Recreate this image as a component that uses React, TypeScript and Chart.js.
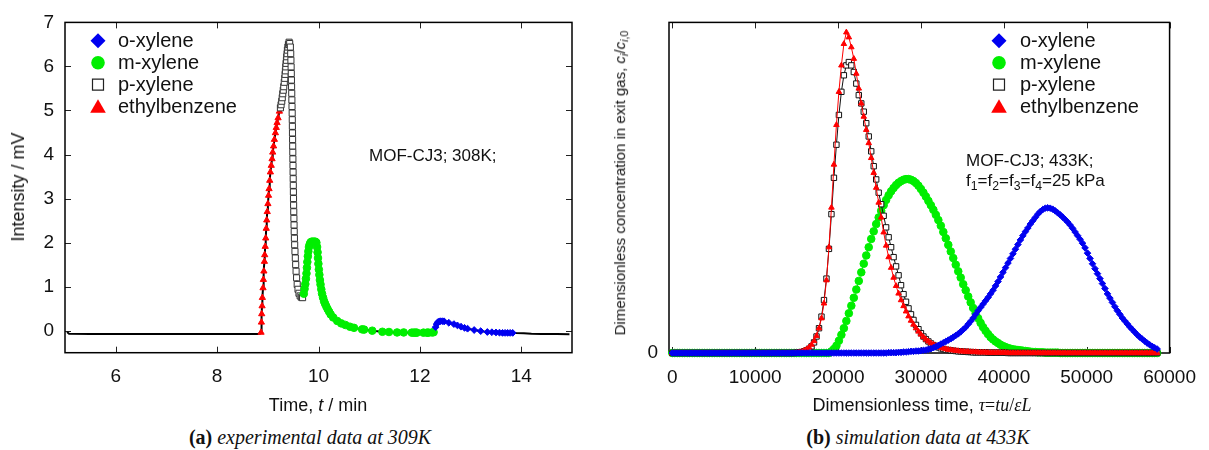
import React, { useEffect, useRef } from "react";
import { Chart, registerables } from "chart.js";

Chart.register(...registerables);

const SANS = '"Liberation Sans", Arial, Helvetica, sans-serif';
const SERIF = '"Liberation Serif", "Times New Roman", serif';

const BLUE = "#0000f0";
const GREEN = "#00ee00";
const RED = "#ff0000";
const BLACK = "#000000";

const SPECIES = ["o-xylene", "m-xylene", "p-xylene", "ethylbenzene"];

// ---------- (a) experimental breakthrough trace: time [min], intensity [mV] ----------
const BASE_START_TIME = [5.04, 5.08, 5.5, 6, 7, 8, 8.5, 8.8, 8.85];
const BASE_START_MV = [-0.03, -0.07, -0.075, -0.075, -0.075, -0.075, -0.075, -0.075, -0.065];

const EB_TIME = [8.867, 8.874, 8.88, 8.887, 8.893, 8.906, 8.913, 8.923, 8.933, 8.939, 8.949, 8.959, 8.969, 8.979, 8.989, 9.002, 9.015, 9.025, 9.038, 9.051, 9.068, 9.084, 9.097, 9.114, 9.13, 9.15, 9.167, 9.183, 9.203, 9.229];
const EB_MV = [-0.04, 0.19, 0.38, 0.56, 0.75, 0.97, 1.16, 1.35, 1.57, 1.72, 1.91, 2.1, 2.32, 2.51, 2.7, 2.88, 3.07, 3.22, 3.41, 3.6, 3.75, 3.9, 4.05, 4.19, 4.34, 4.49, 4.61, 4.72, 4.83, 4.98];

const PX_TIME = [9.249, 9.262, 9.275, 9.285, 9.295, 9.305, 9.315, 9.325, 9.335, 9.342, 9.348, 9.355, 9.361, 9.368, 9.374, 9.381, 9.387, 9.397, 9.407, 9.42, 9.432,
  9.445, 9.452, 9.456, 9.46, 9.463, 9.466, 9.469, 9.472, 9.475, 9.478, 9.481, 9.483, 9.485, 9.487, 9.489, 9.491, 9.493, 9.495, 9.497, 9.499, 9.501, 9.503, 9.505, 9.507, 9.509, 9.512, 9.515, 9.518, 9.521, 9.525, 9.53, 9.536, 9.543, 9.55, 9.558, 9.568, 9.58, 9.596, 9.615, 9.638, 9.662, 9.686];
const PX_MV = [5.06, 5.13, 5.21, 5.29, 5.38, 5.46, 5.54, 5.64, 5.73, 5.82, 5.9, 5.99, 6.07, 6.14, 6.22, 6.29, 6.37, 6.44, 6.5, 6.55, 6.52,
  6.44, 6.29, 6.14, 5.99, 5.84, 5.69, 5.54, 5.39, 5.24, 5.09, 4.94, 4.79, 4.64, 4.49, 4.34, 4.19, 4.05, 3.9, 3.75, 3.6, 3.45, 3.3, 3.15, 3.0, 2.85, 2.7, 2.55, 2.4, 2.25, 2.1, 1.95, 1.8, 1.65, 1.5, 1.35, 1.2, 1.05, 0.94, 0.85, 0.79, 0.76, 0.75];

const MX_TIME = [9.71, 9.725, 9.74, 9.752, 9.763, 9.772, 9.78, 9.79, 9.8, 9.812, 9.826, 9.842, 9.86, 9.88, 9.9, 9.92, 9.94, 9.958, 9.972, 9.982, 9.99, 9.998, 10.007, 10.017, 10.028, 10.04, 10.055, 10.07, 10.09, 10.11, 10.13, 10.155, 10.18, 10.21, 10.24, 10.29, 10.37, 10.45, 10.53, 10.62, 10.7, 10.86, 10.9, 11.06, 11.26, 11.39, 11.55, 11.68, 11.84, 11.88, 11.91, 11.94, 12.07, 12.14, 12.17, 12.24, 12.27];
const MX_MV = [0.84, 0.95, 1.06, 1.18, 1.3, 1.43, 1.56, 1.69, 1.8, 1.9, 1.96, 2.0, 2.02, 2.02, 2.02, 2.02, 2.02, 2.0, 1.9, 1.78, 1.65, 1.52, 1.39, 1.27, 1.15, 1.05, 0.94, 0.84, 0.75, 0.67, 0.61, 0.55, 0.49, 0.43, 0.37, 0.3, 0.22, 0.165, 0.13, 0.09, 0.065, 0.03, 0.025, 0.0, -0.025, -0.03, -0.04, -0.04, -0.045, -0.045, -0.045, -0.045, -0.045, -0.045, -0.045, -0.04, -0.035];

const OX_TIME = [12.31, 12.33, 12.35, 12.38, 12.41, 12.45, 12.48, 12.57, 12.67, 12.74, 12.81, 12.88, 12.94, 13.07, 13.2, 13.33, 13.42, 13.5, 13.57, 13.63, 13.68, 13.73, 13.78, 13.83];
const OX_MV = [0.08, 0.15, 0.19, 0.21, 0.215, 0.215, 0.21, 0.18, 0.15, 0.12, 0.09, 0.065, 0.045, 0.015, -0.01, -0.03, -0.035, -0.04, -0.045, -0.05, -0.05, -0.05, -0.05, -0.05];

const BASE_END_TIME = [13.9, 14.05, 14.2, 14.4, 14.7, 14.95];
const BASE_END_MV = [-0.055, -0.06, -0.07, -0.075, -0.075, -0.08];

const TIME_TICKS = [6, 8, 10, 12, 14];
const MV_TICKS = [0, 1, 2, 3, 4, 5, 6, 7];

// ---------- (b) simulated exit concentrations vs dimensionless time ----------
const TAU = [
  0, 300, 600, 900, 1200, 1500, 1800, 2100, 2400, 2700,
  3000, 3300, 3600, 3900, 4200, 4500, 4800, 5100, 5400, 5700,
  6000, 6300, 6600, 6900, 7200, 7500, 7800, 8100, 8400, 8700,
  9000, 9300, 9600, 9900, 10200, 10500, 10800, 11100, 11400, 11700,
  12000, 12300, 12600, 12900, 13200, 13500, 13800, 14100, 14400, 14700,
  15000, 15300, 15600, 15900, 16200, 16500, 16800, 17100, 17400, 17700,
  18000, 18300, 18600, 18900, 19200, 19500, 19800, 20100, 20400, 20700,
  21000, 21300, 21600, 21900, 22200, 22500, 22800, 23100, 23400, 23700,
  24000, 24300, 24600, 24900, 25200, 25500, 25800, 26100, 26400, 26700,
  27000, 27300, 27600, 27900, 28200, 28500, 28800, 29100, 29400, 29700,
  30000, 30300, 30600, 30900, 31200, 31500, 31800, 32100, 32400, 32700,
  33000, 33300, 33600, 33900, 34200, 34500, 34800, 35100, 35400, 35700,
  36000, 36300, 36600, 36900, 37200, 37500, 37800, 38100, 38400, 38700,
  39000, 39300, 39600, 39900, 40200, 40500, 40800, 41100, 41400, 41700,
  42000, 42300, 42600, 42900, 43200, 43500, 43800, 44100, 44400, 44700,
  45000, 45300, 45600, 45900, 46200, 46500, 46800, 47100, 47400, 47700,
  48000, 48300, 48600, 48900, 49200, 49500, 49800, 50100, 50400, 50700,
  51000, 51300, 51600, 51900, 52200, 52500, 52800, 53100, 53400, 53700,
  54000, 54300, 54600, 54900, 55200, 55500, 55800, 56100, 56400, 56700,
  57000, 57300, 57600, 57900, 58200, 58500,
];

const OX_SIM = [
  0, 0, 0, 0, 0, 0, 0, 0, 0, 0,
  0, 0, 0, 0, 0, 0, 0, 0, 0, 0,
  0, 0, 0, 0, 0, 0, 0, 0, 0, 0,
  0, 0, 0, 0, 0, 0, 0, 0, 0, 0,
  0, 0, 0, 0, 0, 0, 0, 0, 0, 0,
  0, 0, 0, 0, 0, 0, 0, 0, 0, 0,
  0, 0, 0, 0, 0, 0, 0, 0, 0, 0,
  0, 0, 0, 0, 0, 0, 0, 0, 0, 0,
  0, 0, 0, 0, 0, 0, 0, 0.001, 0.001, 0.001,
  0.001, 0.002, 0.002, 0.003, 0.003, 0.004, 0.005, 0.005, 0.006, 0.006,
  0.007, 0.008, 0.009, 0.011, 0.013, 0.016, 0.019, 0.023, 0.027, 0.031,
  0.035, 0.039, 0.043, 0.048, 0.053, 0.058, 0.064, 0.071, 0.078, 0.087,
  0.096, 0.106, 0.117, 0.128, 0.138, 0.148, 0.158, 0.168, 0.179, 0.19,
  0.203, 0.216, 0.23, 0.244, 0.258, 0.272, 0.286, 0.3, 0.314, 0.328,
  0.342, 0.355, 0.367, 0.378, 0.39, 0.4, 0.41, 0.42, 0.428, 0.434,
  0.438, 0.439, 0.438, 0.435, 0.43, 0.424, 0.418, 0.411, 0.404, 0.396,
  0.387, 0.377, 0.366, 0.355, 0.344, 0.332, 0.318, 0.302, 0.286, 0.27,
  0.255, 0.24, 0.225, 0.21, 0.195, 0.179, 0.166, 0.153, 0.14, 0.128,
  0.117, 0.106, 0.097, 0.088, 0.079, 0.071, 0.063, 0.055, 0.048, 0.042,
  0.036, 0.03, 0.025, 0.02, 0.016, 0.012,
];

const MX_SIM = [
  0, 0, 0, 0, 0, 0, 0, 0, 0, 0,
  0, 0, 0, 0, 0, 0, 0, 0, 0, 0,
  0, 0, 0, 0, 0, 0, 0, 0, 0, 0,
  0, 0, 0, 0, 0, 0, 0, 0, 0, 0,
  0, 0, 0, 0, 0, 0, 0, 0, 0, 0,
  0, 0, 0, 0, 0, 0, 0, 0, 0, 0,
  0, 0, 0, 0, 0.005, 0.012, 0.022, 0.037, 0.055, 0.075,
  0.097, 0.12, 0.143, 0.167, 0.192, 0.218, 0.244, 0.27, 0.295, 0.32,
  0.345, 0.368, 0.39, 0.41, 0.43, 0.447, 0.463, 0.477, 0.489, 0.499,
  0.508, 0.515, 0.52, 0.524, 0.526, 0.526, 0.524, 0.52, 0.514, 0.506,
  0.496, 0.485, 0.473, 0.46, 0.447, 0.433, 0.418, 0.402, 0.385, 0.366,
  0.347, 0.327, 0.307, 0.287, 0.267, 0.247, 0.228, 0.208, 0.19, 0.171,
  0.153, 0.136, 0.12, 0.105, 0.091, 0.078, 0.067, 0.057, 0.048, 0.041,
  0.035, 0.03, 0.025, 0.021, 0.018, 0.015, 0.013, 0.011, 0.01, 0.009,
  0.008, 0.007, 0.006, 0.005, 0.004, 0.003, 0.003, 0.002, 0.002, 0.002,
  0.001, 0.001, 0.001, 0.001, 0.001, 0.001, 0, 0, 0, 0,
  0, 0, 0, 0, 0, 0, 0, 0, 0, 0,
  0, 0, 0, 0, 0, 0, 0, 0, 0, 0,
  0, 0, 0, 0, 0, 0, 0, 0, 0, 0,
  0, 0, 0, 0, 0, 0,
];

const PX_SIM = [
  0, 0, 0, 0, 0, 0, 0, 0, 0, 0,
  0, 0, 0, 0, 0, 0, 0, 0, 0, 0,
  0, 0, 0, 0, 0, 0, 0, 0, 0, 0,
  0, 0, 0, 0, 0, 0, 0, 0, 0, 0,
  0, 0, 0, 0, 0, 0, 0, 0, 0, 0,
  0.001, 0.002, 0.003, 0.005, 0.008, 0.013, 0.02, 0.032, 0.05, 0.075,
  0.11, 0.16, 0.225, 0.315, 0.42, 0.53, 0.63, 0.72, 0.79, 0.84,
  0.87, 0.88, 0.87, 0.85, 0.815, 0.78, 0.755, 0.73, 0.695, 0.655,
  0.61, 0.565, 0.525, 0.485, 0.45, 0.415, 0.38, 0.35, 0.32, 0.29,
  0.262, 0.235, 0.205, 0.178, 0.155, 0.135, 0.117, 0.1, 0.085, 0.072,
  0.06, 0.05, 0.042, 0.035, 0.029, 0.024, 0.02, 0.017, 0.014, 0.012,
  0.01, 0.009, 0.008, 0.007, 0.006, 0.005, 0.005, 0.004, 0.004, 0.003,
  0.003, 0.002, 0.002, 0.002, 0.002, 0.002, 0.002, 0.001, 0.001, 0.001,
  0.001, 0.001, 0.001, 0.001, 0.001, 0, 0, 0, 0, 0,
  0, 0, 0, 0, 0, 0, 0, 0, 0, 0,
  0, 0, 0, 0, 0, 0, 0, 0, 0, 0,
  0, 0, 0, 0, 0, 0, 0, 0, 0, 0,
  0, 0, 0, 0, 0, 0, 0, 0, 0, 0,
  0, 0, 0, 0, 0, 0, 0, 0, 0, 0,
  0, 0, 0, 0, 0, 0,
];

const EB_SIM = [
  0, 0, 0, 0, 0, 0, 0, 0, 0, 0,
  0, 0, 0, 0, 0, 0, 0, 0, 0, 0,
  0, 0, 0, 0, 0, 0, 0, 0, 0, 0,
  0, 0, 0, 0, 0, 0, 0, 0, 0, 0,
  0, 0, 0, 0, 0, 0, 0, 0, 0, 0,
  0.001, 0.002, 0.004, 0.007, 0.011, 0.017, 0.025, 0.036, 0.052, 0.075,
  0.105, 0.15, 0.22, 0.32, 0.44, 0.57, 0.69, 0.79, 0.87, 0.935,
  0.97, 0.955, 0.925, 0.89, 0.845, 0.8, 0.755, 0.715, 0.675, 0.635,
  0.59, 0.545, 0.5, 0.455, 0.41, 0.365, 0.325, 0.29, 0.258, 0.228,
  0.203, 0.18, 0.16, 0.142, 0.126, 0.111, 0.098, 0.086, 0.075, 0.065,
  0.056, 0.048, 0.041, 0.035, 0.03, 0.026, 0.022, 0.019, 0.016, 0.014,
  0.012, 0.01, 0.009, 0.008, 0.007, 0.006, 0.005, 0.005, 0.004, 0.004,
  0.003, 0.003, 0.003, 0.002, 0.002, 0.002, 0.002, 0.001, 0.001, 0.001,
  0.001, 0.001, 0.001, 0.001, 0.001, 0, 0, 0, 0, 0,
  0, 0, 0, 0, 0, 0, 0, 0, 0, 0,
  0, 0, 0, 0, 0, 0, 0, 0, 0, 0,
  0, 0, 0, 0, 0, 0, 0, 0, 0, 0,
  0, 0, 0, 0, 0, 0, 0, 0, 0, 0,
  0, 0, 0, 0, 0, 0, 0, 0, 0, 0,
  0, 0, 0, 0, 0, 0,
];

const TAU_TICKS = [0, 10000, 20000, 30000, 40000, 50000, 60000];
const CONC_TICKS = [0];

// ---------- helpers ----------
type Pt = { x: number; y: number };
const pts = (xs: number[], ys: number[]): Pt[] => xs.map((x, i) => ({ x, y: ys[i] }));

type Shape = "diamond" | "circle" | "square" | "triangle";
const KEY_SHAPES: Shape[] = ["diamond", "circle", "square", "triangle"];
const KEY_COLORS = [BLUE, GREEN, BLACK, RED];

function drawKeyMarker(ctx: CanvasRenderingContext2D, shape: Shape, x: number, y: number, color: string) {
  ctx.save();
  ctx.fillStyle = color;
  ctx.strokeStyle = color;
  ctx.beginPath();
  if (shape === "diamond") {
    const h = 7.5;
    ctx.moveTo(x, y - h);
    ctx.lineTo(x + h, y);
    ctx.lineTo(x, y + h);
    ctx.lineTo(x - h, y);
    ctx.closePath();
    ctx.fill();
  } else if (shape === "circle") {
    ctx.arc(x, y, 6.8, 0, Math.PI * 2);
    ctx.fill();
  } else if (shape === "square") {
    const s = 5.5;
    ctx.fillStyle = "#fff";
    ctx.strokeStyle = "#222";
    ctx.lineWidth = 1.2;
    ctx.rect(x - s, y - s, 2 * s, 2 * s);
    ctx.fill();
    ctx.stroke();
  } else {
    ctx.moveTo(x, y - 7.5);
    ctx.lineTo(x + 7.8, y + 6);
    ctx.lineTo(x - 7.8, y + 6);
    ctx.closePath();
    ctx.fill();
  }
  ctx.restore();
}

// Border box with gnuplot-style inward tick marks
function frameTicks(withTop: boolean, withRight: boolean) {
  return {
    id: "frameTicks",
    beforeDatasetsDraw(chart: any) {
      const { ctx, chartArea: a } = chart;
      const xs = chart.scales.x;
      const ys = chart.scales.y;
      const len = 6;
      ctx.save();
      ctx.strokeStyle = "#222";
      ctx.lineWidth = 1;
      ctx.beginPath();
      for (const t of xs.ticks) {
        const px = Math.round(xs.getPixelForValue(t.value)) + 0.5;
        ctx.moveTo(px, a.bottom);
        ctx.lineTo(px, a.bottom - len);
        if (withTop) {
          ctx.moveTo(px, a.top);
          ctx.lineTo(px, a.top + len);
        }
      }
      for (const t of ys.ticks) {
        const py = Math.round(ys.getPixelForValue(t.value)) + 0.5;
        ctx.moveTo(a.left, py);
        ctx.lineTo(a.left + len, py);
        if (withRight) {
          ctx.moveTo(a.right, py);
          ctx.lineTo(a.right - len, py);
        }
      }
      ctx.stroke();
      ctx.strokeStyle = "#000";
      ctx.lineWidth = 1.5;
      ctx.strokeRect(a.left, a.top, a.right - a.left, a.bottom - a.top);
      ctx.restore();
    },
  };
}

// Species key drawn inside the plot box
function speciesKey(markerX: number, textX: number, firstY: number, gap: number) {
  return {
    id: "speciesKey",
    afterDatasetsDraw(chart: any) {
      const ctx: CanvasRenderingContext2D = chart.ctx;
      ctx.save();
      ctx.font = `20px ${SANS}`;
      ctx.textBaseline = "middle";
      ctx.textAlign = "left";
      SPECIES.forEach((name, i) => {
        const y = firstY + i * gap;
        drawKeyMarker(ctx, KEY_SHAPES[i], markerX, y, KEY_COLORS[i]);
        ctx.fillStyle = "#111";
        ctx.fillText(name, textX, y + 1);
      });
      ctx.restore();
    },
  };
}

const tickFont = { family: SANS, size: 19 };

function axisX(min: number, max: number, values: number[], boxHeight: number) {
  return {
    type: "linear" as const,
    min,
    max,
    afterBuildTicks: (axis: any) => {
      axis.ticks = values.map((value) => ({ value }));
    },
    afterFit: (axis: any) => {
      axis.height = boxHeight;
    },
    grid: { display: false, drawTicks: false },
    border: { display: false },
    ticks: { font: tickFont, color: "#111", padding: 13, maxRotation: 0, autoSkip: false, callback: (v: any) => String(v) },
  };
}

function axisY(min: number, max: number, values: number[], boxWidth: number) {
  return {
    type: "linear" as const,
    min,
    max,
    afterBuildTicks: (axis: any) => {
      axis.ticks = values.map((value) => ({ value }));
    },
    afterFit: (axis: any) => {
      axis.width = boxWidth;
    },
    grid: { display: false, drawTicks: false },
    border: { display: false },
    ticks: { font: tickFont, color: "#111", padding: 11, autoSkip: false, callback: (v: any) => String(v) },
  };
}

function experimentConfig(): any {
  const trace = [
    ...pts(BASE_START_TIME, BASE_START_MV),
    ...pts(EB_TIME, EB_MV),
    ...pts(PX_TIME, PX_MV),
    ...pts(MX_TIME, MX_MV),
    ...pts(OX_TIME, OX_MV),
    ...pts(BASE_END_TIME, BASE_END_MV),
  ];
  return {
    type: "scatter",
    data: {
      datasets: [
        { label: SPECIES[0], data: pts(OX_TIME, OX_MV), pointStyle: "rectRot", pointRadius: 3.4, pointBackgroundColor: BLUE, pointBorderColor: BLUE, pointBorderWidth: 1, showLine: false },
        { label: SPECIES[1], data: pts(MX_TIME, MX_MV), pointStyle: "circle", pointRadius: 3.8, pointBackgroundColor: GREEN, pointBorderColor: GREEN, pointBorderWidth: 1, showLine: false },
        { label: SPECIES[2], data: pts(PX_TIME, PX_MV), pointStyle: "rect", pointRadius: 4.3, pointBackgroundColor: "#fff", pointBorderColor: "#333", pointBorderWidth: 1, showLine: false },
        { label: SPECIES[3], data: pts(EB_TIME, EB_MV), pointStyle: "triangle", pointRadius: 3.6, pointBackgroundColor: RED, pointBorderColor: RED, pointBorderWidth: 1, showLine: false },
        { label: "signal", data: trace, showLine: true, borderColor: BLACK, borderWidth: 2, pointRadius: 0, tension: 0 },
      ],
    },
    options: {
      responsive: false,
      animation: false,
      events: [],
      layout: { padding: { left: 0, top: 18.3, right: 32, bottom: 0 } },
      plugins: { legend: { display: false }, tooltip: { enabled: false } },
      scales: {
        x: axisX(5, 15, TIME_TICKS, 67.3),
        y: axisY(-0.5, 7, MV_TICKS, 65),
      },
    },
    plugins: [frameTicks(true, true), speciesKey(98, 118, 40.7, 22)],
  };
}

function simulationConfig(): any {
  const line = (data: Pt[], color: string, style: string, radius: number, fill: string) => ({
    data,
    showLine: true,
    borderColor: color,
    borderWidth: 1,
    pointStyle: style,
    pointRadius: radius,
    pointBackgroundColor: fill,
    pointBorderColor: color,
    pointBorderWidth: 1,
    tension: 0,
    clip: false,
  });
  return {
    type: "scatter",
    data: {
      datasets: [
        { label: SPECIES[0], ...line(pts(TAU, OX_SIM), BLUE, "rectRot", 3.3, BLUE) },
        { label: SPECIES[3], ...line(pts(TAU, EB_SIM), RED, "triangle", 3.2, RED) },
        { label: SPECIES[2], ...line(pts(TAU, PX_SIM), "#111", "rect", 3.8, "#fff") },
        { label: SPECIES[1], ...line(pts(TAU, MX_SIM), GREEN, "circle", 3.8, GREEN) },
      ],
    },
    options: {
      responsive: false,
      animation: false,
      events: [],
      layout: { padding: { left: 0, top: 18.3, right: 32, bottom: 0 } },
      plugins: { legend: { display: false }, tooltip: { enabled: false } },
      scales: {
        x: axisX(-400, 60000, TAU_TICKS, 67),
        y: axisY(0, 1, CONC_TICKS, 65),
      },
    },
    plugins: [frameTicks(true, false), speciesKey(395, 416, 40.7, 22)],
  };
}

// ---------- text placed around the two plots ----------
type TextProps = {
  x: number;
  y: number;
  size: number;
  left?: boolean;
  rotate?: boolean;
  family?: string;
  children: React.ReactNode;
};

function Text({ x, y, size, left, rotate, family, children }: TextProps) {
  const shift = left ? "translate(0, -50%)" : "translate(-50%, -50%)";
  return (
    <div
      style={{
        position: "absolute",
        left: x,
        top: y,
        transform: shift + (rotate ? " rotate(-90deg)" : ""),
        fontSize: size,
        fontFamily: family || SANS,
        whiteSpace: "nowrap",
        lineHeight: 1,
        color: "#111",
      }}
    >
      {children}
    </div>
  );
}

const Sub = ({ children }: { children: React.ReactNode }) => (
  <span style={{ fontSize: "0.72em", verticalAlign: "-0.28em" }}>{children}</span>
);

export default function App() {
  const leftRef = useRef<HTMLCanvasElement>(null);
  const rightRef = useRef<HTMLCanvasElement>(null);

  useEffect(() => {
    const left = new Chart(leftRef.current as HTMLCanvasElement, experimentConfig());
    const right = new Chart(rightRef.current as HTMLCanvasElement, simulationConfig());
    return () => {
      left.destroy();
      right.destroy();
    };
  }, []);

  return (
    <div style={{ position: "absolute", left: 0, top: 0, width: 1209, height: 450, background: "#fff", overflow: "hidden" }}>
      <canvas ref={leftRef} width={604} height={420} style={{ position: "absolute", left: 0, top: 0, display: "block" }} />
      <canvas ref={rightRef} width={605} height={420} style={{ position: "absolute", left: 604, top: 0, display: "block" }} />

      <Text x={18} y={187} size={18} rotate>Intensity / mV</Text>
      <Text x={318} y={405} size={18}>
        Time, <i>t</i> / min
      </Text>
      <Text x={369} y={155} size={17} left>MOF-CJ3; 308K;</Text>

      <Text x={621} y={183} size={15} rotate>
        Dimensionless concentration in exit gas, <i>c</i>
        <Sub><i>i</i></Sub>/<i>c</i>
        <Sub><i>i</i>,0</Sub>
      </Text>
      <Text x={922} y={405} size={18}>
        Dimensionless time,{" "}
        <span style={{ fontFamily: SERIF }}>
          <i>τ</i>=<i>tu</i>/<i>εL</i>
        </span>
      </Text>
      <Text x={966} y={160} size={17} left>MOF-CJ3; 433K;</Text>
      <Text x={966} y={182} size={17} left>
        f<Sub>1</Sub>=f<Sub>2</Sub>=f<Sub>3</Sub>=f<Sub>4</Sub>=25 kPa
      </Text>

      <Text x={310} y={437} size={20} family={SERIF}>
        <b>(a)</b> <i>experimental data at 309K</i>
      </Text>
      <Text x={918} y={437} size={20} family={SERIF}>
        <b>(b)</b> <i>simulation data at 433K</i>
      </Text>
    </div>
  );
}
